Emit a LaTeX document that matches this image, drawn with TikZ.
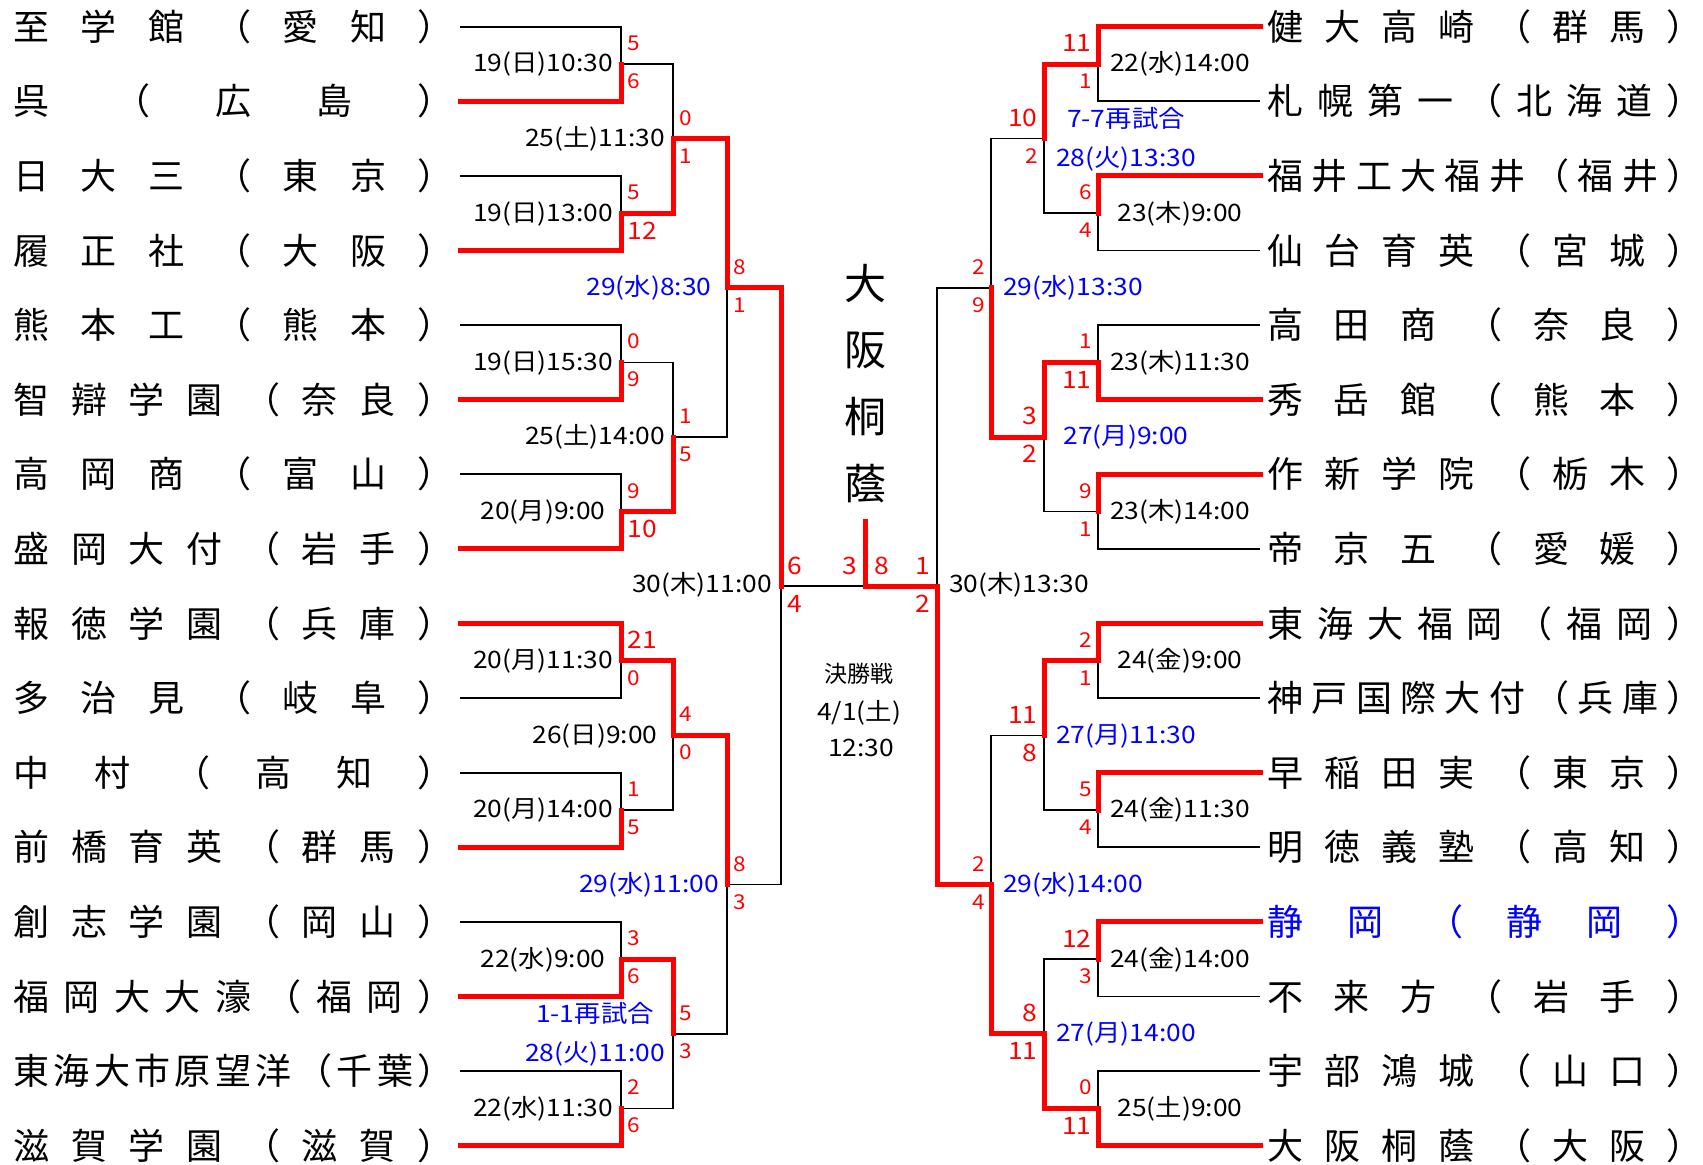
\documentclass[tikz,border=0pt]{standalone}
\usepackage{fontspec}
\setmainfont{Noto Sans CJK JP}
\newfontfamily\numfont[FakeStretch=1.1]{Noto Sans CJK JP}
\usetikzlibrary{calc}
\definecolor{winred}{RGB}{255,0,0}
\definecolor{infoblue}{RGB}{0,0,255}
\def\spreadi#1{\ifx\relax#1\else\hfill#1\expandafter\spreadi\fi}
\def\spreadfirst#1{#1\spreadi}
\newcommand\spreadL[1]{\makebox[220pt]{\spreadfirst#1\relax}}
\newcommand\spreadR[1]{\makebox[217.5pt]{\spreadfirst#1\relax}}
\tikzset{
  bline/.style={line width=0.85pt, black},
  rline/.style={line width=2.5pt, winred, line cap=rect},
  team/.style={inner sep=0pt, anchor=west, font=\fontsize{18pt}{20pt}\selectfont, text height=15.84pt, text depth=2.16pt},
  ctr/.style={inner sep=0pt, font=\fontsize{21pt}{24pt}\selectfont, text height=18.48pt, text depth=2.52pt},
  fcjk/.style={inner sep=0pt, font=\fontsize{11.5pt}{14pt}\selectfont, text height=10.12pt, text depth=1.38pt},
  dt/.style={inner sep=0pt, font=\numfont\fontsize{12pt}{14pt}\selectfont, text height=8.8pt, text depth=0pt},
  dtb/.style={dt, text=infoblue},
  scs/.style={inner sep=0pt, text=winred, font=\numfont\fontsize{10.25pt}{12pt}\selectfont, text height=7.5pt, text depth=0pt},
  scb/.style={inner sep=0pt, text=winred, font=\numfont\fontsize{12pt}{14pt}\selectfont, text height=8.8pt, text depth=0pt},
}
\newcommand\lsc[5]{\node[#2,anchor=west] (#1-up) at ($(#1)+(6,-21)$) {#3}; \node[#4,anchor=west] (#1-lo) at ($(#1)+(6,17)$) {#5};}
\newcommand\rsc[5]{\node[#2,anchor=east] (#1-up) at ($(#1)+(-6,-21)$) {#3}; \node[#4,anchor=east] (#1-lo) at ($(#1)+(-6,17)$) {#5};}
\newcommand\ldt[3]{\node[#2] (#1-date) at ($(#1)+(-78,-1)$) {#3};}
\newcommand\rdt[3]{\node[#2] (#1-date) at ($(#1)+(82,-1)$) {#3};}
\begin{document}
\begin{tikzpicture}[x=0.5pt,y=-0.5pt]
\useasboundingbox (0,0) rectangle (1703,1164);
\fill[white] (0,0) rectangle (1703,1164);
% ---------- coordinates ----------
\foreach \i in {0,...,15}{
  \coordinate (la\i) at (460,{26.7+74.6*\i});
  \coordinate (ra\i) at (1260,{26.7+74.6*\i});}
\foreach \k in {0,...,7}{
  \coordinate (lm1-\k) at (621,{64+149.2*\k});
  \coordinate (rm1-\k) at (1098,{64+149.2*\k});}
\foreach \j in {0,...,3}{
  \coordinate (lm2-\j) at (673,{138.6+298.4*\j});
  \coordinate (rm2-\j) at (1044,{138.6+298.4*\j});}
\foreach \q in {0,1}{
  \coordinate (lm3-\q) at (727,{287.8+596.8*\q});
  \coordinate (rm3-\q) at (991,{287.8+596.8*\q});}
\coordinate (lm4) at (781,586.2);
\coordinate (rm4) at (937,586.2);
\coordinate (fin) at (865,586.2);
\coordinate (champ) at (865,521.5);
% ---------- black bracket ----------
\foreach \i in {0,...,15}{
  \pgfmathtruncatemacro{\k}{\i/2}
  \draw[bline] (la\i) -| (lm1-\k);
  \draw[bline] (ra\i) -| (rm1-\k);}
\foreach \k in {0,...,7}{
  \pgfmathtruncatemacro{\j}{\k/2}
  \draw[bline] (lm1-\k) -| (lm2-\j);
  \draw[bline] (rm1-\k) -| (rm2-\j);}
\foreach \j in {0,...,3}{
  \pgfmathtruncatemacro{\q}{\j/2}
  \draw[bline] (lm2-\j) -| (lm3-\q);
  \draw[bline] (rm2-\j) -| (rm3-\q);}
\foreach \q in {0,1}{
  \draw[bline] (lm3-\q) -| (lm4);
  \draw[bline] (rm3-\q) -| (rm4);}
\draw[bline] (lm4) -- (fin);
% ---------- winners (red) ----------
\foreach \i in {1,3,5,7,8,11,13,15}{
  \pgfmathtruncatemacro{\k}{\i/2}
  \draw[rline] (la\i) -| (lm1-\k);}
\foreach \k in {1,3,4,6}{
  \pgfmathtruncatemacro{\j}{\k/2}
  \draw[rline] (lm1-\k) -| (lm2-\j);}
\foreach \j in {0,2}{
  \pgfmathtruncatemacro{\q}{\j/2}
  \draw[rline] (lm2-\j) -| (lm3-\q);}
\draw[rline] (lm3-0) -| (lm4);
\foreach \i in {0,2,5,6,8,10,12,15}{
  \pgfmathtruncatemacro{\k}{\i/2}
  \draw[rline] (ra\i) -| (rm1-\k);}
\foreach \k in {0,2,4,7}{
  \pgfmathtruncatemacro{\j}{\k/2}
  \draw[rline] (rm1-\k) -| (rm2-\j);}
\foreach \j in {1,3}{
  \pgfmathtruncatemacro{\q}{\j/2}
  \draw[rline] (rm2-\j) -| (rm3-\q);}
\draw[rline] (rm3-1) -| (rm4);
\draw[rline] (rm4) -- (fin) -- (champ);
% ---------- team names ----------
\foreach \i/\tname in {0/至学館（愛知）,1/呉（広島）,2/日大三（東京）,3/履正社（大阪）,
  4/熊本工（熊本）,5/智辯学園（奈良）,6/高岡商（富山）,7/盛岡大付（岩手）,
  8/報徳学園（兵庫）,9/多治見（岐阜）,10/中村（高知）,11/前橋育英（群馬）,
  12/創志学園（岡山）,13/福岡大大濠（福岡）,14/東海大市原望洋（千葉）,15/滋賀学園（滋賀）}{
  \node[team] (TL\i) at ($(la\i)+(-447,0)$) {\expandafter\spreadL\expandafter{\tname}};}
\foreach \i/\tname/\tcol in {0/健大高崎（群馬）/black,1/札幌第一（北海道）/black,2/福井工大福井（福井）/black,
  3/仙台育英（宮城）/black,4/高田商（奈良）/black,5/秀岳館（熊本）/black,6/作新学院（栃木）/black,
  7/帝京五（愛媛）/black,8/東海大福岡（福岡）/black,9/神戸国際大付（兵庫）/black,10/早稲田実（東京）/black,
  11/明徳義塾（高知）/black,12/静岡（静岡）/infoblue,13/不来方（岩手）/black,14/宇部鴻城（山口）/black,
  15/大阪桐蔭（大阪）/black}{
  \node[team,text=\tcol] (TR\i) at ($(ra\i)+(7,0)$) {\expandafter\spreadR\expandafter{\tname}};}
% ---------- champion & final ----------
\foreach \t [count=\c] in {大,阪,桐,蔭}{
  \node[ctr] (champname\c) at (865,{283.3+66.67*(\c-1)}) {\t};}
\node[fcjk] (finlabel) at (859,674) {決勝戦};
\node[dt] (findate) at (859,712) {4/1(土)};
\node[dt] (fintime) at (861,748) {12:30};
% ---------- dates ----------
\ldt{lm1-0}{dt}{19(日)10:30}
\ldt{lm1-1}{dt}{19(日)13:00}
\ldt{lm1-2}{dt}{19(日)15:30}
\ldt{lm1-3}{dt}{20(月)9:00}
\ldt{lm1-4}{dt}{20(月)11:30}
\ldt{lm1-5}{dt}{20(月)14:00}
\ldt{lm1-6}{dt}{22(水)9:00}
\ldt{lm1-7}{dt}{22(水)11:30}
\ldt{lm2-0}{dt}{25(土)11:30}
\ldt{lm2-1}{dt}{25(土)14:00}
\ldt{lm2-2}{dt}{26(日)9:00}
\node[dtb] (lm2-3-date) at ($(lm2-3)+(-78,19)$) {28(火)11:00};
\node[dtb] (lm2-3-note) at ($(lm2-3)+(-78,-20)$) {1-1再試合};
\ldt{lm3-0}{dtb}{29(水)8:30}
\ldt{lm3-1}{dtb}{29(水)11:00}
\node[dt] (lm4-date) at ($(lm4)+(-79,-3)$) {30(木)11:00};
\rdt{rm1-0}{dt}{22(水)14:00}
\rdt{rm1-1}{dt}{23(木)9:00}
\rdt{rm1-2}{dt}{23(木)11:30}
\rdt{rm1-3}{dt}{23(木)14:00}
\rdt{rm1-4}{dt}{24(金)9:00}
\rdt{rm1-5}{dt}{24(金)11:30}
\rdt{rm1-6}{dt}{24(金)14:00}
\rdt{rm1-7}{dt}{25(土)9:00}
\node[dtb] (rm2-0-date) at ($(rm2-0)+(82,19)$) {28(火)13:30};
\node[dtb] (rm2-0-note) at ($(rm2-0)+(82,-20)$) {7-7再試合};
\rdt{rm2-1}{dtb}{27(月)9:00}
\rdt{rm2-2}{dtb}{27(月)11:30}
\rdt{rm2-3}{dtb}{27(月)14:00}
\rdt{rm3-0}{dtb}{29(水)13:30}
\rdt{rm3-1}{dtb}{29(水)14:00}
\node[dt] (rm4-date) at ($(rm4)+(82,-3)$) {30(木)13:30};
% ---------- scores ----------
\lsc{lm1-0}{scs}{5}{scs}{6}
\lsc{lm1-1}{scs}{5}{scb}{12}
\lsc{lm1-2}{scs}{0}{scs}{9}
\lsc{lm1-3}{scs}{9}{scb}{10}
\lsc{lm1-4}{scb}{21}{scs}{0}
\lsc{lm1-5}{scs}{1}{scs}{5}
\lsc{lm1-6}{scs}{3}{scs}{6}
\lsc{lm1-7}{scs}{2}{scs}{6}
\lsc{lm2-0}{scs}{0}{scs}{1}
\lsc{lm2-1}{scs}{1}{scs}{5}
\lsc{lm2-2}{scs}{4}{scs}{0}
\lsc{lm2-3}{scs}{5}{scs}{3}
\lsc{lm3-0}{scs}{8}{scs}{1}
\lsc{lm3-1}{scs}{8}{scs}{3}
\lsc{lm4}{scb}{6}{scb}{4}
\rsc{rm1-0}{scb}{11}{scs}{1}
\rsc{rm1-1}{scs}{6}{scs}{4}
\rsc{rm1-2}{scs}{1}{scb}{11}
\rsc{rm1-3}{scs}{9}{scs}{1}
\rsc{rm1-4}{scs}{2}{scs}{1}
\rsc{rm1-5}{scs}{5}{scs}{4}
\rsc{rm1-6}{scb}{12}{scs}{3}
\rsc{rm1-7}{scs}{0}{scb}{11}
\rsc{rm2-0}{scb}{10}{scs}{2}
\rsc{rm2-1}{scb}{3}{scb}{2}
\rsc{rm2-2}{scb}{11}{scb}{8}
\rsc{rm2-3}{scb}{8}{scb}{11}
\rsc{rm3-0}{scs}{2}{scs}{9}
\rsc{rm3-1}{scs}{2}{scs}{4}
\rsc{rm4}{scb}{1}{scb}{2}
\node[scb,anchor=east] (fin-left) at ($(fin)+(-7,-21)$) {3};
\node[scb,anchor=west] (fin-right) at ($(fin)+(9,-21)$) {8};
\end{tikzpicture}
\end{document}
